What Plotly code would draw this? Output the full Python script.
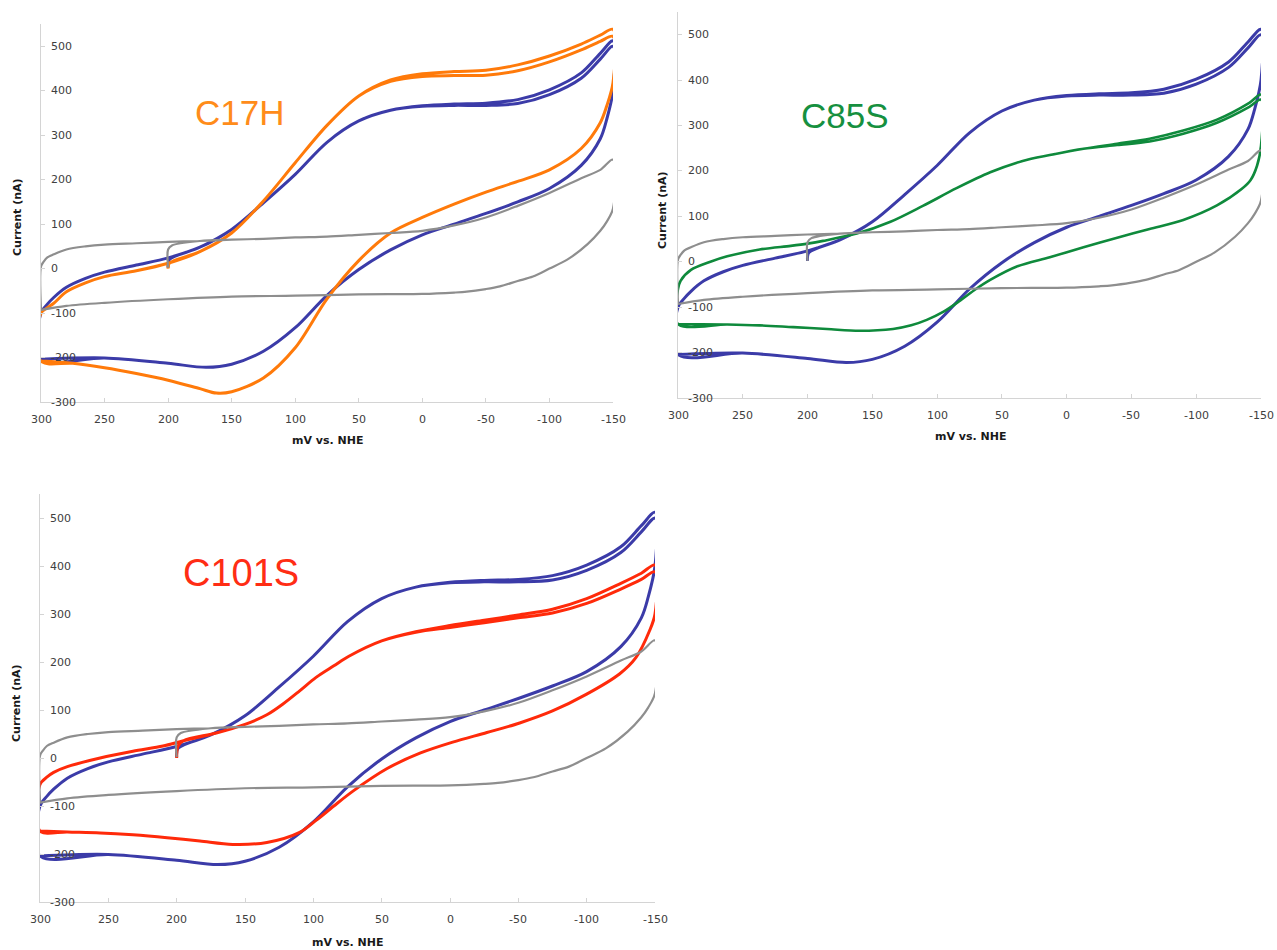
import plotly.graph_objects as go

# ---------------- data (potential mV vs NHE, current nA) ----------------
# Baseline (gray) voltammogram – identical in every panel
bg_start_E = [200, 200, 197]
bg_start_I = [2, 43, 52]
bg_up_E = [300, 300, 298, 295, 290, 280, 265, 250, 225, 200, 175, 150, 125, 100, 75, 50, 25, 0, -25, -50, -75, -100, -125, -140, -150]
bg_up_I = [-93, 5, 15, 25, 32, 43, 50, 54, 57, 60, 62, 65, 67, 70, 72, 76, 80, 85, 97, 115, 141, 170, 203, 222, 245]
bg_dn_E = [-150, -145, -140, -130, -114, -100, -87, -75, -61, -50, -35, -25, 0, 50, 100, 150, 200, 250, 280, 300]
bg_dn_I = [135, 105, 85, 55, 20, 0, -18, -28, -40, -46, -52, -54, -57, -58, -61, -63, -69, -77, -84, -93]

# Wild type (blue) voltammogram – identical in every panel
wt_start_E = [200, 199]
wt_start_I = [2, 20]
wt_up_E = [300, 295, 290, 280, 265, 250, 225, 200, 175, 150, 125, 100, 75, 50, 25, 0, -25, -50, -75, -100, -125, -140, -150]
wt_up_I = [-100, -80, -65, -42, -22, -8, 8, 24, 48, 88, 148, 212, 284, 332, 356, 366, 370, 372, 380, 402, 440, 484, 512]
wt_up2_I = [-100, -80, -65, -42, -22, -8, 8, 24, 48, 88, 148, 212, 284, 332, 356, 365, 367, 367, 371, 391, 428, 471, 500]
wt_dn_E = [-150, -145, -140, -125, -100, -75, -50, -25, 0, 25, 50, 75, 100, 125, 150, 170, 200, 250, 300]
wt_dn_I = [400, 335, 292, 232, 180, 150, 124, 100, 76, 42, -2, -60, -133, -186, -215, -222, -213, -201, -204]

# C17H (orange)
h_start_E = [200, 199]
h_start_I = [0, 12]
h_up_E = [300, 295, 290, 280, 265, 250, 225, 200, 175, 150, 125, 100, 75, 50, 25, 0, -25, -50, -75, -100, -125, -140, -150]
h_up_I = [-100, -88, -78, -52, -32, -18, -5, 12, 38, 80, 152, 238, 322, 388, 424, 438, 443, 446, 458, 478, 505, 525, 538]
h_up2_I = [-100, -88, -78, -52, -32, -18, -5, 12, 38, 80, 152, 238, 322, 388, 421, 432, 434, 435, 445, 465, 492, 511, 522]
h_dn_E = [-150, -145, -140, -125, -100, -75, -50, -25, 0, 25, 50, 75, 100, 125, 150, 162, 175, 200, 225, 250, 275, 300]
h_dn_I = [418, 365, 328, 270, 222, 196, 172, 145, 115, 80, 18, -68, -178, -246, -277, -280, -270, -251, -236, -223, -213, -208]

# C85S (green)
g_up_E = [300, 298, 290, 275, 262, 237, 213, 200, 188, 162, 136, 111, 85, 59, 34, 13, -13, -39, -64, -90, -116, -141, -150]
g_up_I = [-60, -42, -18, 0, 12, 27, 35, 40, 46, 62, 88, 123, 162, 197, 222, 235, 249, 260, 271, 289, 313, 350, 368]
g_up2_I = [-60, -42, -18, 0, 12, 27, 35, 40, 46, 62, 88, 123, 162, 197, 222, 235, 249, 257, 265, 282, 306, 341, 357]
g_dn_E = [-150, -147, -142, -135, -116, -90, -64, -39, -13, 13, 38, 59, 70, 82, 95, 108, 120, 134, 160, 185, 211, 237, 262, 300]
g_dn_I = [255, 212, 180, 160, 124, 92, 72, 53, 32, 10, -10, -40, -60, -85, -110, -128, -140, -148, -152, -148, -144, -140, -138, -137]

# C101S (red)
r_start_E = [200, 199]
r_start_I = [0, 25]
r_up_E = [300, 295, 290, 280, 256, 232, 210, 195, 171, 150, 134, 122, 110, 98, 85, 74, 50, 25, 0, -25, -50, -75, -100, -125, -140, -150]
r_up_I = [-55, -40, -30, -18, 0, 14, 25, 36, 52, 70, 90, 113, 140, 168, 192, 212, 244, 263, 276, 287, 298, 310, 332, 364, 385, 402]
r_up2_I = [-55, -40, -30, -18, 0, 14, 25, 36, 52, 70, 90, 113, 140, 168, 192, 212, 244, 262, 272, 282, 292, 302, 322, 352, 372, 388]
r_dn_E = [-150, -146, -136, -124, -100, -75, -51, -27, -2, 22, 46, 71, 85, 98, 110, 134, 159, 183, 207, 232, 256, 280, 300]
r_dn_I = [300, 265, 209, 175, 133, 98, 73, 53, 33, 10, -22, -69, -100, -130, -155, -176, -180, -173, -166, -160, -156, -154, -152]

panel_labels = ["C17H", "C85S", "C101S"]
y_ticks = [-300, -200, -100, 0, 100, 200, 300, 400, 500]
x_ticks = [300, 250, 200, 150, 100, 50, 0, -50, -100, -150]

# ---------------- styling ----------------
OFF = 0                      # body margin removed below, figure starts at page corner
W, H = 1277 - OFF, 950 - OFF
GRAY = "#8e8e8e"
BLUE = "#3b3ba8"
ORANGE = "#ff7a0a"
GREEN = "#0f8a3c"
RED = "#ff2a0a"
TXT_ORANGE = "#ff8c1a"
TXT_GREEN = "#16903f"
TXT_RED = "#ff2d14"

# panel pixel boxes in the reference: (left, right, top, bottom)
boxes = [(41, 613, 24, 402), (678, 1261, 12, 398), (40, 655, 494, 902)]


def fx(px):
    return (px - OFF) / W


def fy(py):
    return 1 - (py - OFF) / H


def build_loop(up_E, up_I, dn_E, dn_I, up2_I, start_E=None, start_I=None):
    E, I = [], []
    if start_E is not None:
        E += list(start_E)
        I += list(start_I)
        for e, i in zip(up_E, up_I):
            if e < start_E[-1]:
                E.append(e)
                I.append(i)
    else:
        E += list(up_E)
        I += list(up_I)
    E += list(dn_E)
    I += list(dn_I)
    E += list(up_E)
    I += list(up2_I)
    E += list(dn_E)
    I += list(dn_I)
    return E, I


fig = go.Figure()

bgE, bgI = build_loop(bg_up_E, bg_up_I, bg_dn_E, bg_dn_I, bg_up_I, bg_start_E, bg_start_I)
wtE, wtI = build_loop(wt_up_E, wt_up_I, wt_dn_E, wt_dn_I, wt_up2_I, wt_start_E, wt_start_I)
hE, hI = build_loop(h_up_E, h_up_I, h_dn_E, h_dn_I, h_up2_I, h_start_E, h_start_I)
gE, gI = build_loop(g_up_E, g_up_I, g_dn_E, g_dn_I, g_up2_I)
rE, rI = build_loop(r_up_E, r_up_I, r_dn_E, r_dn_I, r_up2_I, r_start_E, r_start_I)

mutants = [(hE, hI, ORANGE, 3.0), (gE, gI, GREEN, 2.6), (rE, rI, RED, 3.0)]
txt_cols = [TXT_ORANGE, TXT_GREEN, TXT_RED]

for k in range(3):
    xa = "x" if k == 0 else f"x{k+1}"
    ya = "y" if k == 0 else f"y{k+1}"
    mE, mI, mc, mw = mutants[k]
    fig.add_trace(go.Scatter(x=wtE, y=wtI, mode="lines", xaxis=xa, yaxis=ya,
                             line=dict(color=BLUE, width=3.0, shape="spline", smoothing=0.9),
                             showlegend=False, hoverinfo="skip"))
    fig.add_trace(go.Scatter(x=mE, y=mI, mode="lines", xaxis=xa, yaxis=ya,
                             line=dict(color=mc, width=mw, shape="spline", smoothing=0.9),
                             showlegend=False, hoverinfo="skip"))
    fig.add_trace(go.Scatter(x=bgE, y=bgI, mode="lines", xaxis=xa, yaxis=ya,
                             line=dict(color=GRAY, width=2.2, shape="spline", smoothing=0.9),
                             showlegend=False, hoverinfo="skip"))

layout = dict(width=W, height=H, margin=dict(l=0, r=0, t=0, b=0, autoexpand=False),
              paper_bgcolor="white", plot_bgcolor="white")

annotations = []
tickfont = dict(family="DejaVu Sans", size=11, color="#404040")
for k, (l, r, t, b) in enumerate(boxes):
    xname = "xaxis" if k == 0 else f"xaxis{k+1}"
    yname = "yaxis" if k == 0 else f"yaxis{k+1}"
    xref = "x" if k == 0 else f"x{k+1}"
    yref = "y" if k == 0 else f"y{k+1}"
    layout[xname] = dict(domain=[fx(l), fx(r)], range=[300, -150], anchor=yref,
                         tickvals=x_ticks, showticklabels=False, automargin=False,
                         showgrid=False, zeroline=False, showline=True,
                         linecolor="#d4d4d4", linewidth=1,
                         ticks="inside", ticklen=4, tickcolor="#d4d4d4")
    layout[yname] = dict(domain=[fy(b), fy(t)], range=[-300, 550], anchor=xref,
                         tickvals=y_ticks, showticklabels=False, automargin=False,
                         showgrid=False, zeroline=False, showline=True,
                         linecolor="#d4d4d4", linewidth=1,
                         ticks="inside", ticklen=4, tickcolor="#d4d4d4")
    # tick labels placed on the axes' own coordinates
    for v in x_ticks:
        annotations.append(dict(text=str(v), x=v, y=-300, xref=xref, yref=yref,
                                showarrow=False, xanchor="center", yanchor="middle",
                                yshift=-17, font=tickfont))
    for v in y_ticks:
        annotations.append(dict(text=str(v), x=300, y=v, xref=xref, yref=yref,
                                showarrow=False, xanchor="left", yanchor="middle",
                                xshift=8, font=tickfont))

# axis titles
xt_pos = [(327, 440), (970, 437), (347, 942)]
yt_pos = [(17, 217), (662, 210), (16, 703)]
for (px, py) in xt_pos:
    annotations.append(dict(text="<b>mV vs. NHE</b>", x=fx(px), y=fy(py), xref="paper", yref="paper",
                            showarrow=False, xanchor="center", yanchor="middle",
                            font=dict(family="DejaVu Sans", size=11, color="#1a1a1a")))
for (px, py) in yt_pos:
    annotations.append(dict(text="<b>Current (nA)</b>", x=fx(px), y=fy(py), xref="paper", yref="paper",
                            showarrow=False, xanchor="center", yanchor="middle", textangle=-90,
                            font=dict(family="DejaVu Sans", size=11, color="#1a1a1a")))

# panel labels
lab_pos = [(239, 112, 35), (845, 116, 35), (241, 573, 38)]
for (px, py, fs), txt, col in zip(lab_pos, panel_labels, txt_cols):
    annotations.append(dict(text=txt, x=fx(px), y=fy(py), xref="paper", yref="paper",
                            showarrow=False, xanchor="center", yanchor="middle",
                            font=dict(family="Liberation Sans", size=fs, color=col)))

layout["annotations"] = annotations
fig.update_layout(**layout)
fig.write_html("out.html",
               config={"displayModeBar": False},
               post_script="document.body.style.margin='0px';"
                           "document.documentElement.style.overflow='hidden';")
